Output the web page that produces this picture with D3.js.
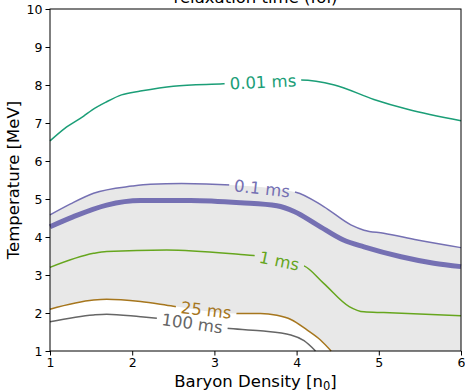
<!DOCTYPE html>
<html>
<head>
<meta charset="utf-8">
<script src="https://cdn.jsdelivr.net/npm/d3@7"></script>
<style>
  body { margin: 0; background: #fff; }
  svg text { font-family: "DejaVu Sans", sans-serif; }
</style>
</head>
<body>
<svg id="chart" width="465" height="392"></svg>
<script>
// contour lines (x in n0, T in MeV)
const xTicks = [1, 2, 3, 4, 5, 6];
const yTicks = [1, 2, 3, 4, 5, 6, 7, 8, 9, 10];

const c001_x = [1, 1.18, 1.41, 1.51, 1.69, 1.87, 2.10, 2.50, 3.11, 4.05, 4.46, 4.94, 5.35, 6.0];
const c001_T = [6.53, 6.86, 7.18, 7.34, 7.56, 7.74, 7.84, 7.97, 8.03, 8.13, 8.0, 7.62, 7.36, 7.06];

const c01_x = [1, 1.25, 1.53, 2.0, 2.22, 2.6, 3.2, 3.99, 4.33, 4.66, 4.82, 5.06, 5.47, 6.0];
const c01_T = [4.58, 4.87, 5.15, 5.34, 5.39, 5.41, 5.37, 5.18, 4.80, 4.32, 4.18, 4.10, 3.92, 3.72];

const thick_x = [1, 1.28, 1.69, 2.10, 2.71, 3.32, 3.76, 3.97, 4.25, 4.57, 4.82, 5.27, 5.67, 6.0];
const thick_T = [4.27, 4.53, 4.84, 4.96, 4.96, 4.90, 4.82, 4.67, 4.32, 3.92, 3.74, 3.48, 3.31, 3.22];

const c1_x = [1, 1.53, 1.69, 2.42, 3.32, 3.48, 4.09, 4.33, 4.64, 4.82, 5.06, 6.0];
const c1_T = [3.20, 3.57, 3.62, 3.66, 3.54, 3.51, 3.24, 2.78, 2.17, 2.03, 2.01, 1.93];

const c25_x = [1, 1.53, 1.69, 2.10, 2.50, 3.27, 3.56, 3.76, 3.93, 4.13, 4.29, 4.42];
const c25_T = [2.10, 2.34, 2.36, 2.30, 2.18, 1.99, 1.99, 1.94, 1.83, 1.55, 1.29, 1.0];

const c100_x = [1, 1.53, 1.69, 2.10, 2.30, 3.15, 3.56, 3.93, 4.09, 4.23];
const c100_T = [1.77, 1.95, 1.97, 1.90, 1.86, 1.60, 1.53, 1.42, 1.27, 1.0];

const labelText = ["0.01 ms", "0.1 ms", "1 ms", "25 ms", "100 ms"];
const labelX = [3.59, 3.58, 3.79, 2.90, 2.73];

const W = 465, H = 392;
const m = { left: 50, right: 4, top: 9, bottom: 41 };

const svg = d3.select("#chart");

const x = d3.scaleLinear().domain([1, 6]).range([m.left, W - m.right]);
const y = d3.scaleLinear().domain([1, 10]).range([H - m.bottom, m.top]);

const zip = (xs, ts) => xs.map((v, i) => [v, ts[i]]);

const contours = [
  { pts: zip(c001_x, c001_T), color: "#1b9e77", w: 1.5 },
  { pts: zip(c01_x, c01_T), color: "#7570b3", w: 1.5 },
  { pts: zip(c1_x, c1_T), color: "#66a61e", w: 1.5 },
  { pts: zip(c25_x, c25_T), color: "#a6761d", w: 1.5 },
  { pts: zip(c100_x, c100_T), color: "#666666", w: 1.5 }
];

const line = d3.line()
  .x(d => x(d[0]))
  .y(d => y(d[1]))
  .curve(d3.curveMonotoneX);

// shaded band between 25 ms and 0.1 ms lines
svg.append("path")
  .attr("d", line(contours[1].pts)
    + "L" + x(x.domain()[1]) + "," + y(y.domain()[0])
    + line(contours[3].pts.slice().reverse()).replace(/^M/, "L") + "Z")
  .attr("fill", "#e8e8e8");

// interpolate T on a contour at a given x
function tAt(pts, xv) {
  for (let i = 1; i < pts.length; i++) {
    if (pts[i][0] >= xv) {
      const a = pts[i - 1], b = pts[i];
      const f = (xv - a[0]) / (b[0] - a[0]);
      return [a[1] + f * (b[1] - a[1]), a, b];
    }
  }
  return [pts[pts.length - 1][1], pts[pts.length - 2], pts[pts.length - 1]];
}

const defs = svg.append("defs");
const mask = defs.append("mask").attr("id", "gaps").attr("maskUnits", "userSpaceOnUse");
mask.append("rect").attr("x", 0).attr("y", 0).attr("width", W).attr("height", H).attr("fill", "#fff");

const lines = svg.append("g").attr("mask", "url(#gaps)");
lines.append("path")
  .attr("d", line(zip(thick_x, thick_T)))
  .attr("fill", "none")
  .attr("stroke", "#7570b3")
  .attr("stroke-width", 5);

contours.forEach(c => {
  lines.append("path")
    .attr("d", line(c.pts))
    .attr("fill", "none")
    .attr("stroke", c.color)
    .attr("stroke-width", c.w);
});

// contour labels
const labG = svg.append("g");
contours.forEach((c, i) => {
  const [tv, a, b] = tAt(c.pts, labelX[i]);
  const px = x(labelX[i]), py = y(tv);
  const ang = Math.atan2(y(b[1]) - y(a[1]), x(b[0]) - x(a[0])) * 180 / Math.PI;
  const t = labG.append("text")
    .attr("transform", `translate(${px},${py}) rotate(${ang})`)
    .attr("text-anchor", "middle")
    .attr("dy", "0.36em")
    .attr("font-size", "16.5px")
    .attr("fill", c.color)
    .text(labelText[i]);
  const tw = t.node().getComputedTextLength();
  mask.append("rect")
    .attr("x", -tw / 2 - 5)
    .attr("y", -9)
    .attr("width", tw + 10)
    .attr("height", 18)
    .attr("transform", `translate(${px},${py}) rotate(${ang})`)
    .attr("fill", "#000");
});

// axes
const xAxis = svg.append("g")
  .attr("transform", `translate(0,${H - m.bottom})`)
  .call(d3.axisBottom(x).tickValues(xTicks).tickFormat(d3.format("d")).tickSize(4.5).tickPadding(2.5));
const yAxis = svg.append("g")
  .attr("transform", `translate(${m.left},0)`)
  .call(d3.axisLeft(y).tickValues(yTicks).tickFormat(d3.format("d")).tickSize(4.5).tickPadding(3));
[xAxis, yAxis].forEach(g => {
  g.select(".domain").remove();
  g.selectAll(".tick line").attr("stroke", "#000").attr("stroke-width", 1);
  g.selectAll(".tick text")
    .attr("fill", "#000")
    .attr("font-size", "12.5px")
    .attr("font-family", "DejaVu Sans, sans-serif");
});

// frame
svg.append("rect")
  .attr("x", x(1)).attr("y", y(10))
  .attr("width", x(6) - x(1)).attr("height", y(1) - y(10))
  .attr("fill", "none").attr("stroke", "#000").attr("stroke-width", 1);

svg.append("text")
  .attr("x", (x(1) + x(6)) / 2).attr("y", 386.5)
  .attr("text-anchor", "middle").attr("font-size", "16.5px")
  .html('Baryon Density [n<tspan dy="3" font-size="11.5px">0</tspan><tspan dy="-3">]</tspan>');

svg.append("text")
  .attr("transform", `translate(19,${(y(1) + y(10)) / 2}) rotate(-90)`)
  .attr("text-anchor", "middle").attr("font-size", "16.5px")
  .text("Temperature [MeV]");

svg.append("text")
  .attr("x", (x(1) + x(6)) / 2).attr("y", 2.5)
  .attr("text-anchor", "middle").attr("font-size", "16.5px")
  .text("relaxation time (fol)");
</script>
</body>
</html>
